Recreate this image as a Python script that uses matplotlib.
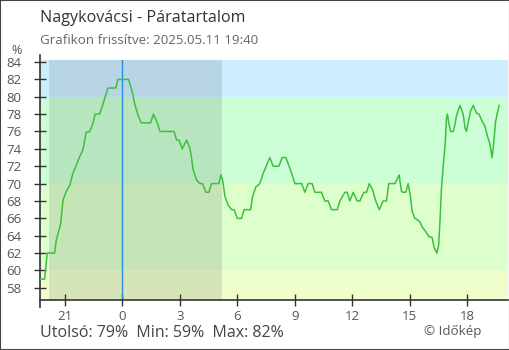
import matplotlib
matplotlib.use("Agg")
import matplotlib.pyplot as plt
from matplotlib.lines import Line2D
from matplotlib.patches import Rectangle

# hours relative to midnight (negative = previous evening)
hours = [-4.26, -4.05, -3.91, -3.53, -3.44, -3.21, -3.09, -2.92, -2.74, -2.57,
         -2.40, -2.22, -2.05, -1.88, -1.70, -1.53, -1.41, -1.18, -1.01, -0.75,
         -0.34, -0.22, 0.33, 0.52, 0.65, 0.82, 0.99, 1.48, 1.63, 1.83,
         1.97, 2.70, 2.84, 2.97, 3.13, 3.36, 3.53, 3.62, 3.70, 3.88,
         4.05, 4.19, 4.37, 4.52, 4.66, 5.04, 5.15, 5.24, 5.36, 5.53,
         5.71, 5.84, 6.00, 6.23, 6.36, 6.70, 6.80, 6.97, 7.18, 7.36,
         7.53, 7.70, 7.88, 8.17, 8.35, 8.54, 8.71, 8.84, 9.01, 9.36,
         9.53, 9.70, 9.91, 10.05, 10.40, 10.57, 10.75, 10.92, 11.22, 11.36,
         11.62, 11.74, 11.88, 12.05, 12.26, 12.40, 12.61, 12.75, 12.89, 13.06,
         13.23, 13.41, 13.62, 13.79, 13.91, 14.23, 14.45, 14.57, 14.66, 14.80,
         14.92, 15.04, 15.13, 15.27, 15.36, 15.53, 15.65, 15.83, 16.00, 16.17,
         16.28, 16.42, 16.51, 16.57, 16.66, 16.75, 16.85, 16.92, 16.97, 17.04,
         17.13, 17.27, 17.36, 17.44, 17.62, 17.79, 17.89, 17.96, 18.05, 18.17,
         18.31, 18.49, 18.62, 18.75, 18.93, 19.04, 19.18, 19.30, 19.39, 19.48,
         19.57, 19.67]
humidity = [59, 59, 62, 62, 63.5, 65.4, 68.1, 69.1, 69.8, 71.2,
            72.1, 73.1, 73.9, 75.9, 76, 76.9, 78, 78, 79.1, 81,
            81, 82, 82, 80.6, 79.2, 77.9, 77, 77, 78, 77,
            76, 76, 75, 75, 74, 75, 74.1, 72.9, 71.6, 70.4,
            70, 70, 69, 69, 70, 70, 71, 70.4, 68.5, 67.5,
            67, 67, 66, 66, 67, 67, 68.5, 69.6, 70, 71.2,
            72.1, 73, 72, 72, 73, 73, 72, 71.2, 70, 70,
            69, 70, 70, 69, 69, 68, 68, 67, 67, 68,
            69, 69, 68, 69, 68, 68, 69, 69, 70, 69.3,
            68, 67, 68, 68, 70, 70, 71, 69.1, 69, 69,
            70, 68.5, 66.8, 66, 65.9, 65.6, 65, 64.5, 63.9, 63.8,
            62.6, 62, 62.9, 65.2, 69.5, 72, 74.5, 77.5, 78, 77,
            76, 76, 76.8, 77.8, 79, 78, 76.4, 76, 77, 78.3,
            79, 78.1, 78, 77.3, 76.6, 75.6, 74.6, 73, 74.8, 77.1,
            78.1, 79]

tick_pos = [-3, 0, 3, 6, 9, 12, 15, 18]
tick_lbl = ["21", "0", "3", "6", "9", "12", "15", "18"]
y_ticks = list(range(58, 86, 2))

bands = [(40, 60, "#eeffcc"), (60, 70, "#ddffcc"), (70, 80, "#ccffd6"), (80, 100, "#cceeff")]
night = (-3.8, 5.2)

plt.rcParams["font.family"] = ["Open Sans", "DejaVu Sans"]

fig = plt.figure(figsize=(5.1, 3.5), dpi=100)
ax = fig.add_axes([40 / 510, 50 / 350, 468 / 510, 240 / 350])

x0, x1 = -4.29, 20.13
y0, y1 = 56.6, 84.23
for lo, hi, c in bands:
    ax.axhspan(lo, hi, color=c, lw=0, zorder=0)
ax.axvspan(night[0], night[1], color="#000000", alpha=0.1, lw=0, zorder=1)
ax.axvline(0, color="#2a8ee0", lw=1.0, zorder=2)
ax.plot(hours, humidity, color="#3cc03c", lw=1.1, zorder=3)

ax.set_xlim(x0, x1)
ax.set_ylim(y0, y1)
ax.set_xticks(tick_pos, tick_lbl)
ax.set_yticks(y_ticks)
ax.tick_params(axis="both", direction="inout", length=9, width=1, color="#333333",
               labelcolor="#555555", labelsize=9.5)
ax.tick_params(axis="y", pad=9)
ax.tick_params(axis="x", pad=3)
for s in ["top", "right", "left"]:
    ax.spines[s].set_visible(False)
ax.spines["bottom"].set_color("#333333")
ax.spines["bottom"].set_linewidth(1.2)
ax.add_line(Line2D([0, 0], [-0.028, 1.02], transform=ax.transAxes, color="#333333",
                   lw=1.2, clip_on=False))

fig.text(40 / 510, 1 - 18 / 350, "Nagykovácsi - Páratartalom", fontsize=11.6,
         color="#333333", va="center")
fig.text(40 / 510, 1 - 40 / 350, "Grafikon frissítve: 2025.05.11 19:40", fontsize=9.6,
         color="#666666", va="center")
fig.text(17 / 510, 1 - 51 / 350, "%", fontsize=9, color="#555555", ha="center", va="center")
fig.text(40 / 510, 1 - 333 / 350, "Utolsó: 79%  Min: 59%  Max: 82%", fontsize=11.5,
         color="#444444", va="center")
fig.text(481 / 510, 1 - 331 / 350, "© Időkép", fontsize=9.6, color="#555555",
         ha="right", va="center")

fig.add_artist(Rectangle((0, 0), 1, 1, transform=fig.transFigure, fill=False,
                         edgecolor="#444444", lw=1.5))

fig.savefig("out.png", dpi=100)
